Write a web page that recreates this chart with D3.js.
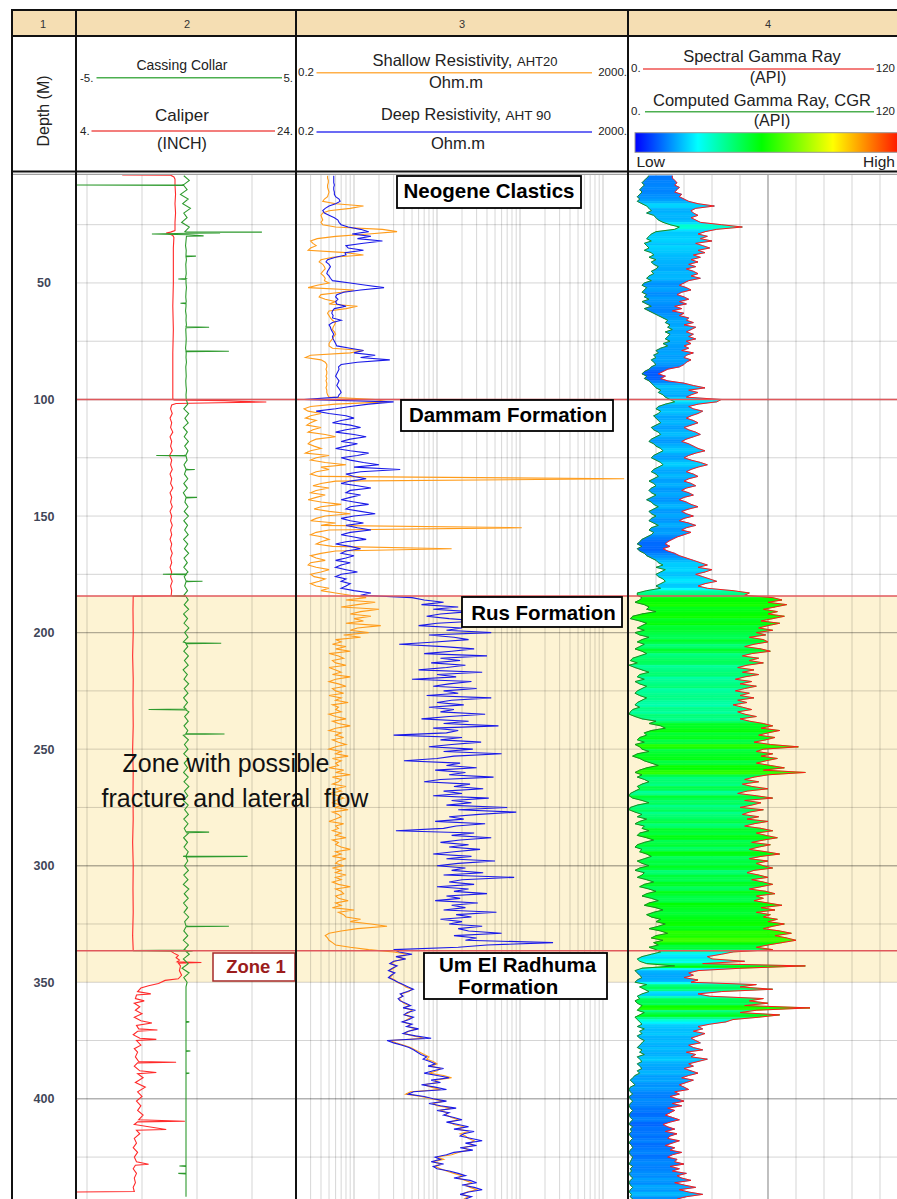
<!DOCTYPE html>
<html>
<head>
<meta charset="utf-8">
<script src="https://cdn.jsdelivr.net/npm/d3@7"></script>
<style>
  body { margin: 0; background: #fff; }
  svg { display: block; }
  text { font-family: "Liberation Sans", Arial, sans-serif; }
</style>
</head>
<body>
<svg id="log" width="897" height="1199"></svg>
<script>
// ---------------- well data ----------------
// Resistivity and gamma samples: one value per metre starting at depthTop.
const depthTop = 4;
const depthStep = 1;

// Deep resistivity, AHT90 (ohm.m)
const deepRes = [
  // Neogene Clastics 4-99 m
  0.57,0.57,0.57,0.57,0.58,0.57,0.57,0.58,0.58,0.6,
  0.66,0.68,0.6,0.5,0.45,0.42,0.44,0.5,0.58,0.64,
  0.66,0.7,0.85,1.2,1.5,0.95,1.6,1.1,2.2,1.3,
  0.8,0.85,1.3,0.78,0.8,0.6,0.48,0.46,0.5,0.52,
  0.5,0.48,0.47,0.5,0.52,0.55,0.9,1.4,2.3,1.2,
  0.75,0.62,0.6,0.64,0.6,0.62,0.8,0.58,0.55,0.54,
  0.56,0.55,0.7,0.55,0.5,0.52,0.53,0.55,0.57,0.55,
  0.56,0.58,0.6,0.62,0.9,1.3,1.0,1.8,1.2,2.7,
  1.1,0.7,0.65,0.66,0.64,0.62,0.6,0.63,0.66,0.64,
  0.62,0.65,0.68,0.7,0.66,0.64,
  // Dammam 100-183 m
  0.25,3.0,1.5,0.9,0.6,0.35,0.5,0.8,1.0,0.7,
  0.55,0.9,1.2,0.8,0.6,1.0,1.4,0.9,0.7,1.1,
  0.8,0.6,0.9,1.5,1.1,0.7,0.9,1.3,2.0,1.0,
  3.6,1.2,0.8,1.0,1.4,0.9,0.7,1.1,1.6,0.9,
  0.8,1.2,0.9,0.7,1.0,1.5,0.9,0.8,1.2,1.8,
  1.0,0.7,0.9,1.3,0.8,1.1,1.6,0.9,0.7,1.0,
  1.4,0.8,0.6,0.9,1.2,0.8,0.7,1.0,0.8,0.6,
  0.9,0.7,0.6,0.8,1.1,0.7,0.6,0.8,0.7,0.9,
  0.8,0.7,1.0,1.6,
  // Rus 184-336 m
  1.2,5.0,7.0,12,6.5,18,9.0,25,11,7.5,
  14,32,10,6.0,20,13,45,8.0,16,24,
  9.5,3.5,12,28,15,7.0,40,11,19,8.5,
  22,13,6.0,35,10,17,5.0,26,14,9.0,
  30,12,18,7.5,45,15,10,21,8.0,16,
  11,38,14,6.5,24,12,55,9.0,18,13,
  3.0,20,11,34,15,8.0,27,12,60,16,
  10,4.0,19,13,30,9.5,22,14,48,11,
  7.0,25,16,36,12,20,9.0,42,15,26,
  13,70,18,90,32,14,21,9.5,38,17,
  12,3.2,28,15,45,19,11,24,14,33,
  16,9.0,26,13,50,18,10,22,15,36,
  12,85,20,14,28,10,24,16,40,13,
  19,9.5,31,15,22,12,52,17,26,11,
  20,14,35,18,24,60,16,30,22,250,
  40,18,3.0,
  // Um El Radhuma 337-443 m
  3.5,5.0,3.2,4.2,3.0,2.7,3.3,2.9,2.6,3.1,
  2.8,2.6,3.0,3.4,3.9,4.5,5.2,4.4,3.6,3.9,
  3.4,3.6,4.2,4.8,3.9,5.5,4.4,4.0,5.2,4.6,
  3.8,5.0,4.3,6.0,4.5,3.9,5.5,8.5,2.5,3.0,
  3.8,4.6,5.2,5.8,6.4,7.5,6.8,8.2,9.5,7.8,
  12,9.0,7.0,10,14,8.5,11,6.5,9.5,13,
  5.2,4.5,7.0,9.0,13,8.0,11,17,10,14,
  12,16,20,13,18,24,16,28,21,19,
  26,35,22,30,19,27,16,13,9.5,11,
  8.5,12,9.0,10,14,18,22,16,25,30,
  20,28,35,24,19,26,22
];

// Shallow resistivity, AHT20 (ohm.m)
const shallowRes = [
  // Neogene Clastics 4-99 m
  0.48,0.48,0.49,0.49,0.48,0.48,0.49,0.5,0.49,0.48,
  0.44,0.42,0.6,1.3,0.9,0.5,0.42,0.4,0.41,0.42,
  0.4,0.42,0.6,2.2,3.3,1.5,0.6,0.36,0.3,0.32,
  0.35,0.3,0.28,0.8,1.3,0.55,0.4,0.38,0.42,0.44,
  0.45,0.42,0.4,0.43,0.45,0.44,0.5,0.36,0.28,1.0,
  0.7,0.4,0.38,0.45,0.6,0.5,1.1,0.8,0.5,0.48,
  0.5,0.52,0.55,0.6,0.58,0.56,0.55,0.58,0.6,0.57,
  0.55,0.52,0.5,0.5,0.55,1.3,0.9,0.3,0.26,0.4,
  0.45,0.47,0.47,0.46,0.47,0.47,0.46,0.47,0.46,0.47,
  0.47,0.46,0.47,0.47,0.48,0.5,
  // Dammam 100-183 m
  1.8,2.5,0.6,0.3,0.25,0.28,0.4,0.3,0.26,0.35,
  0.3,0.27,0.4,0.32,0.28,0.45,0.6,0.35,0.3,0.28,
  0.33,0.4,0.3,0.26,0.5,0.35,0.3,0.45,0.8,0.4,
  0.5,0.35,0.3,0.38,1800,0.6,0.4,0.32,0.5,0.35,
  0.3,0.45,0.35,0.28,0.4,0.7,0.4,0.33,0.5,0.9,
  0.45,0.35,0.3,0.6,0.4,105,0.5,0.35,0.3,0.42,
  0.5,0.4,0.35,0.55,15,0.6,0.4,0.3,0.35,0.45,
  0.3,0.28,0.35,0.5,0.4,0.3,0.33,0.45,0.38,0.3,
  0.35,0.5,0.4,0.6,
  // Rus 184-336 m
  0.9,1.4,0.8,1.8,1.1,0.7,2.0,1.2,0.9,1.6,
  1.0,1.3,0.8,2.1,1.1,0.9,1.5,0.75,1.2,0.6,
  0.7,0.55,0.8,0.6,0.9,0.5,0.65,0.75,0.55,0.6,
  0.8,0.5,0.6,0.7,0.55,0.9,0.6,0.5,0.65,0.8,
  0.55,0.6,0.75,0.5,0.7,0.6,0.85,0.55,0.65,0.6,
  0.7,0.5,0.6,0.8,0.55,0.65,0.9,0.6,0.5,0.7,
  0.6,0.75,0.55,0.65,0.8,0.6,0.5,0.7,0.6,0.85,
  0.55,0.7,0.6,0.65,0.5,0.75,0.6,0.9,0.55,0.7,
  0.65,0.55,0.8,0.6,0.7,0.5,0.65,0.75,0.6,0.55,
  0.7,0.6,0.85,0.55,0.65,0.7,0.6,0.5,0.75,0.6,
  0.65,0.55,0.7,0.6,0.8,0.55,0.65,0.6,0.7,0.9,
  0.6,0.7,0.55,0.8,0.65,0.6,0.75,0.55,0.7,0.6,
  0.8,0.6,0.7,0.55,0.65,0.9,0.6,0.7,0.75,0.6,
  0.65,0.85,0.6,0.7,0.55,1.0,0.65,0.75,0.8,1.2,
  0.9,1.6,2.5,1.1,0.7,0.5,0.45,0.48,0.5,0.55,
  0.6,0.9,1.5,
  // Um El Radhuma 337-443 m
  3.0,4.4,3.4,4.0,3.1,2.8,3.2,3.0,2.7,3.0,
  2.9,2.7,3.1,3.3,3.8,4.2,5.0,4.6,3.7,3.8,
  3.5,3.7,4.0,4.6,4.1,5.0,4.6,4.1,4.9,4.4,
  3.9,4.7,4.5,5.6,4.6,4.0,5.2,7.0,2.7,3.2,
  4.0,4.8,5.4,6.2,7.0,8.0,7.5,9.0,10,8.5,
  11,10,8.0,12,15,9.5,10,7.0,8.5,11,
  4.8,4.2,6.5,8.5,12,9.0,10,15,11,13,
  13,15,18,14,16,21,18,24,19,22,
  24,28,25,27,21,24,18,15,10,12,
  9.0,11,9.5,11,13,16,20,18,22,26,
  22,25,30,23,20,24,21
];

// Spectral gamma ray (API)
const spectralGR = [
  // Neogene Clastics 4-99 m
  19,19,20,21,20,22,21,20,23,22,
  24,26,30,37,29,27,28,30,27,29,
  31,40,49,38,33,30,34,31,36,29,
  32,35,30,33,28,31,27,30,26,29,
  25,28,30,27,31,26,24,22,25,27,
  23,21,24,26,22,25,20,23,19,24,
  22,26,25,28,24,29,27,25,28,26,
  29,25,27,24,26,23,28,25,24,27,
  25,24,22,17,15,13,16,14,17,24,
  28,33,26,30,27,25,
  // Dammam 100-183 m
  40,38,30,26,28,32,30,27,25,28,
  30,27,24,26,29,31,28,25,23,26,
  28,30,33,29,26,24,27,31,34,30,
  27,25,28,30,26,24,27,29,25,23,
  26,28,24,22,25,27,30,26,23,25,
  28,24,22,26,29,25,23,27,24,21,
  19,17,16,18,15,17,20,22,25,28,
  31,34,30,36,33,29,32,35,38,33,
  30,34,45,52,
  // Rus 184-336 m
  50,62,66,60,68,63,58,64,60,67,
  62,57,65,60,56,62,55,59,52,58,
  60,54,50,57,61,53,49,56,52,58,
  51,47,54,49,56,50,46,53,48,55,
  50,46,52,48,54,47,51,45,49,53,
  47,50,55,48,52,58,62,57,65,60,
  56,63,59,54,61,73,58,55,62,57,
  64,59,55,61,67,58,76,60,54,50,
  56,49,53,60,51,47,55,62,50,57,
  53,48,58,52,49,56,51,60,54,50,
  57,62,55,59,64,58,53,61,56,52,
  59,65,57,52,60,55,58,62,54,51,
  56,60,53,58,62,57,52,59,63,55,
  58,54,60,66,57,63,55,61,58,64,
  60,67,62,58,65,70,63,68,72,66,
  60,55,62,
  // Um El Radhuma 337-443 m
  45,40,34,36,50,32,76,48,30,26,
  28,24,30,27,55,48,62,40,30,35,
  58,52,60,50,78,55,48,65,56,45,
  42,35,30,32,28,33,30,27,29,31,
  26,28,32,25,29,27,34,30,26,28,
  24,27,30,26,23,28,25,22,24,26,
  20,22,18,21,24,19,23,17,20,18,
  16,19,22,18,15,17,20,16,21,18,
  17,22,19,16,20,18,23,19,17,21,
  20,24,18,22,19,25,21,23,27,20,
  24,29,22,26,32,25,21
];

// Computed gamma ray, CGR (API)
const computedGR = [
  // Neogene Clastics 4-99 m
  9,8,7,6,7,6,5,6,5,4,
  5,4,6,8,9,10,8,11,12,13,
  15,18,22,20,12,10,9,8,10,7,
  8,9,7,10,11,9,12,10,11,13,
  12,10,11,9,8,10,7,6,8,7,
  6,8,7,9,6,8,10,7,9,11,
  13,15,17,16,18,17,19,16,18,17,
  16,18,15,17,14,12,13,11,12,10,
  11,12,10,9,7,6,8,7,9,10,
  11,12,14,13,15,16,
  // Dammam 100-183 m
  18,20,16,13,12,14,13,11,12,13,
  14,12,10,11,13,14,12,10,9,11,
  12,14,15,13,11,10,12,14,15,13,
  11,10,12,13,11,9,11,12,10,9,
  10,12,10,8,10,11,13,11,9,10,
  12,10,9,11,13,10,9,11,10,8,
  6,5,4,6,4,5,7,8,10,12,
  13,15,12,16,14,12,13,15,16,14,
  12,14,8,4,
  // Rus 184-336 m
  4,6,5,3,7,9,8,12,6,2,
  1,5,8,6,4,7,3,5,9,6,
  4,7,5,3,6,8,5,2,1,4,
  0.5,3,6,9,5,4,7,3,5,8,
  6,4,3,5,8,6,4,3,5,2,
  1,0.5,3,6,12,9,14,16,10,7,
  8,5,4,7,3,5,6,9,4,2,
  5,7,10,13,8,5,3,6,4,7,
  9,6,4,5,3,1,0.5,2,6,9,
  4,1,0.5,3,6,4,8,5,3,7,
  6,9,5,4,8,11,7,4,3,6,
  5,8,10,7,4,6,9,5,3,7,
  6,4,8,11,7,5,9,12,8,6,
  10,13,9,7,12,15,11,8,10,14,
  12,16,13,9,14,17,12,10,15,11,
  13,9,12,
  // Um El Radhuma 337-443 m
  14,10,6,4,5,8,20,6,3,4,
  5,6,4,3,8,5,7,9,6,4,
  5,3,4,6,5,4,7,5,3,4,
  5,6,4,7,5,6,4,5,7,6,
  5,4,6,5,7,4,5,6,4,5,
  6,4,5,3,2,1,2,3,1,0.5,
  1,2,0.5,1,2,1,0.5,1,2,1,
  0.5,1,2,1,0.5,2,1,1.5,0.5,1,
  2,1,0.5,1.5,2,1,0.5,1,2,1.5,
  1,0.5,2,1,1.5,0.5,1,2,1,0.5,
  1,2,1,0.5,1.5,1,2
];

// Caliper (inch): [depth m, value]
const caliper = [
  [3.7,8.2],[3.75,12.6],[4.5,12.9],[5.5,13.0],[8,13.0],[12,13.05],[16,13.0],[20,13.05],[24,13.0],
  [27.5,13.0],[28.2,12.6],[28.6,12.2],[29.0,12.5],[29.6,12.8],[30.5,12.9],[35,12.85],[40,12.85],
  [50,12.85],[60,12.8],[70,12.85],[80,12.8],[90,12.8],[99.6,12.8],[100.2,12.9],[100.5,17.5],
  [100.8,19.0],[101.1,21.3],[101.4,17.0],[101.7,13.1],[102.3,12.7],[104,12.6],[106,12.75],
  [108,12.55],[110,12.7],[112,12.6],[114,12.8],[116,12.55],[118,12.7],[120,12.6],[122,12.75],
  [124,12.5],[126,12.7],[128,12.6],[130,12.75],[132,12.55],[134,12.7],[136,12.6],[138,12.8],
  [140,12.55],[142,12.7],[144,12.6],[146,12.75],[148,12.55],[150,12.7],[152,12.6],[154,12.75],
  [156,12.6],[158,12.7],[160,12.55],[162,12.7],[164,12.6],[166,12.75],[168,12.6],[170,12.7],
  [172,12.55],[174,12.7],[176,12.6],[178,12.75],[180,12.6],[182,12.7],[184.2,12.65],[184.4,9.2],
  [190,9.18],[200,9.2],[210,9.15],[220,9.2],[230,9.18],[240,9.2],[250,9.15],[260,9.2],[270,9.18],
  [280,9.2],[290,9.15],[300,9.2],[310,9.18],[320,9.2],[330,9.15],[336.3,9.2],[336.6,12.6],
  [337.5,12.9],[338.5,13.3],[339.5,13.1],[340.5,13.4],[341.2,13.2],[341.5,15.4],[341.8,13.3],
  [343,13.5],[345,13.4],[347,13.6],[348.5,13.3],[349.2,12.1],[350.5,11.5],[351.5,10.6],
  [352.5,9.9],[354,9.6],[355,10.8],[355.5,9.5],[357,9.4],[358,10.2],[359,9.3],[360.5,9.8],
  [362,9.4],[363.5,10.0],[365,9.3],[366.5,9.9],[367.5,10.9],[368.5,9.5],[370,9.7],[370.5,11.4],
  [371,9.6],[372.5,9.2],[374,9.8],[374.5,11.3],[375,9.5],[377,9.9],[378.5,9.3],[380,9.6],
  [382,9.4],[384,9.7],[384.3,13.1],[384.6,9.6],[386,9.3],[388,9.8],[388.7,11.3],[389.2,9.6],
  [391,10.1],[393,9.4],[395,10.3],[397,9.6],[399,10.0],[401,9.5],[403,9.9],[405,9.6],[407,10.1],
  [409,9.7],[409.6,13.9],[409.9,9.6],[411,9.3],[413.2,12.2],[413.5,9.5],[415,9.8],[417,9.3],
  [419,9.5],[421,9.2],[423,9.6],[425,9.3],[427,9.5],[428.1,10.6],[428.5,9.4],[430,9.2],
  [432,9.5],[434,9.3],[436,9.4],[438,9.2],[439.8,9.3],[440.0,4.05]
];

// Casing collar locator: background trace every 2 m from 4 m ...
const collarStart = 4;
const collarStep = 2;
const collarBase = [
  -0.1,0.15,-0.2,0.05,-0.25,0.1,-0.15,0.2,-0.1,0.05,-0.2,0.15,-0.05,
  0.02,0,-0.02,0.01,0,0.02,-0.01,0,0.01,-0.02,0,0.02,0,-0.01,0.01,0,-0.02,0.01,
  0,0.02,-0.01,0,0.01,0,-0.02,0.01,0,0.02,-0.01,0,0.01,-0.01,0,0.02,0,0.01,
  0.08,-0.1,0.12,-0.05,0.1,-0.12,0.06,-0.08,0.11,-0.06,0.09,-0.11,0.05,-0.09,0.12,-0.07,
  0.08,-0.1,0.06,-0.12,0.1,-0.05,0.09,-0.08,0.11,-0.1,0.07,-0.06,0.1,-0.11,0.08,-0.07,
  0.12,-0.09,0.06,-0.1,0.09,-0.08,0.11,-0.06,0.07,-0.1,
  0.1,-0.08,0.12,-0.11,0.07,-0.09,0.13,-0.06,0.09,-0.12,0.08,-0.1,0.11,-0.07,0.1,-0.13,0.06,-0.09,0.12,-0.08,
  0.09,-0.11,0.07,-0.1,0.13,-0.06,0.1,-0.09,0.08,-0.12,0.11,-0.07,0.09,-0.1,0.12,-0.08,0.07,-0.11,0.1,-0.09,
  0.13,-0.07,0.08,-0.12,0.1,-0.06,0.11,-0.1,0.09,-0.08,0.12,-0.11,0.07,-0.09,0.1,-0.13,0.08,-0.07,0.11,-0.1,
  0.09,-0.12,0.13,-0.08,0.1,-0.11,0.07,-0.09,0.12,-0.06,0.1,-0.1,0.08,-0.12,0.11,-0.09,
  0.15,-0.12,0.1,-0.18,0.14,-0.1,0.05,
  0,0,0,0,0,0,0,0,0,0,0,0,0,0,0,0,0,0,0,0,0,0,0,
  0,0,0,0,0,0,0,0,0,0,0,0,0,0,0,0,0,0,0,0,0,0,0
];
// ... and the collar kicks: [depth m, value]
const collarKicks = [
  [7.8,-0.1],[8.0,-5],[8.2,-0.1],
  [28.1,0],[28.2,3.45],[28.35,0.3],[28.5,1.55],[28.7,0.1],[29.0,-1.55],[29.3,0.1],[29.8,0.8],[29.95,0.02],
  [38.3,0],[38.5,0.45],[38.7,0],
  [48.1,0],[48.3,-0.35],[48.5,0],
  [58.5,0],[58.7,-0.25],[58.9,0],
  [68.8,0],[69.0,1.05],[69.2,0],
  [79.1,0],[79.3,1.95],[79.5,0],
  [123.8,0],[124.0,-1.35],[124.2,0],
  [129.8,0],[130.0,0.4],[130.2,0],
  [141.8,0],[142.0,0.5],[142.2,0],
  [174.8,0],[175.0,-1.05],[175.2,0],
  [177.8,0],[178.0,0.75],[178.2,0],
  [184.1,0],[184.3,-0.65],[184.5,0],
  [204.4,0],[204.6,1.6],[204.8,0],
  [232.8,0],[233.0,-1.7],[233.2,0],
  [243.3,0],[243.5,1.75],[243.7,0],
  [285.4,0],[285.6,1.05],[285.8,0],
  [295.8,0],[296.0,2.8],[296.2,0],
  [325.8,0],[326.0,1.95],[326.2,0],
  [336.2,0],[336.45,-2.4],[336.6,0.3],[336.8,0],
  [366.8,0],[367.0,0.15],[367.2,0],
  [379.3,0],[379.5,0.2],[379.7,0],
  [388.8,0],[389.0,0.15],[389.2,0],
  [428.6,0],[428.8,-0.3],[429.0,0],
  [431.8,0],[432.0,-0.35],[432.2,0]
];

// curve scale limits printed in the header
const collarRange = [-5, 5];
const caliperRange = [4, 24];
const resRange = [0.2, 2000];
const grRange = [0, 120];

// depth annotation
const depthTicks = [50, 100, 150, 200, 250, 300, 350, 400];
const formationTops = [100, 184.3, 336.5];
const zoneInterval = [184.3, 350];

// ---------------- layout ----------------
const svg = d3.select("#log");
const dataTopY = 175, dataBottomY = 1199;
const T1 = [12, 76], T2 = [76, 296], T3 = [296, 628], T4 = [628, 908];

const y = d3.scaleLinear().domain([0, 450]).range([166.4, 166.4 + 450 * 2.331]);
const xCol = d3.scaleLinear().domain(collarRange).range(T2);
const xCal = d3.scaleLinear().domain(caliperRange).range(T2);
const xRes = d3.scaleLog().domain(resRange).range(T3);
const xGR = d3.scaleLinear().domain(grRange).range(T4);
const fillColor = d3.scaleLinear()
  .domain([0, 40, 63, 90, 120])
  .range(["#0000ff", "#00ffff", "#00ff00", "#ffff00", "#ff0000"])
  .clamp(true);

const defs = svg.append("defs");
function clip(id, x0, x1) {
  defs.append("clipPath").attr("id", id).append("rect")
    .attr("x", x0).attr("y", dataTopY).attr("width", x1 - x0).attr("height", dataBottomY - dataTopY);
}
clip("c2", T2[0], T2[1]);
clip("c3", T3[0], T3[1]);
clip("c4", T4[0], T4[1]);
clip("cAll", T2[0], 897);

const sampled = arr => arr.map((v, i) => ({ d: depthTop + i * depthStep, v }));

// ---------------- depth tracks background ----------------
const body = svg.append("g");
body.append("rect").attr("x", T2[0]).attr("width", 897 - T2[0])
  .attr("y", y(zoneInterval[0])).attr("height", y(zoneInterval[1]) - y(zoneInterval[0]))
  .attr("fill", "#fdf3d3");

// horizontal grid every 25 m
const grid = body.append("g").attr("clip-path", "url(#cAll)");
d3.range(25, 450, 25).forEach(d => {
  grid.append("line").attr("x1", T2[0]).attr("x2", 897)
    .attr("y1", y(d)).attr("y2", y(d))
    .attr("stroke", "#000").attr("stroke-opacity", d % 100 === 0 ? 0.3 : 0.17)
    .attr("stroke-width", d % 100 === 0 ? 1.4 : 1);
});
// track 2 linear grid
xCal.ticks(5).filter(v => v > caliperRange[0] && v < caliperRange[1]).forEach(v => {
  grid.append("line").attr("x1", xCal(v)).attr("x2", xCal(v))
    .attr("y1", dataTopY).attr("y2", dataBottomY)
    .attr("stroke", "#000").attr("stroke-opacity", 0.17);
});
// track 3 logarithmic grid
[0.1, 1, 10, 100, 1000].forEach(k => {
  d3.range(1, 10).forEach(m => {
    const v = m * k;
    if (v > resRange[0] * 1.0001 && v < resRange[1] * 0.9999) {
      grid.append("line").attr("x1", xRes(v)).attr("x2", xRes(v))
        .attr("y1", dataTopY).attr("y2", dataBottomY)
        .attr("stroke", "#000").attr("stroke-opacity", m === 1 ? 0.22 : 0.16);
    }
  });
});
// track 4 linear grid
d3.range(12, 120, 12).forEach(v => {
  grid.append("line").attr("x1", xGR(v)).attr("x2", xGR(v))
    .attr("y1", dataTopY).attr("y2", dataBottomY)
    .attr("stroke", "#000").attr("stroke-opacity", v === 60 ? 0.28 : 0.17)
    .attr("stroke-width", v === 60 ? 1.8 : 1);
});

// ---------------- track 2: caliper and casing collar ----------------
const g2 = body.append("g").attr("clip-path", "url(#c2)");
g2.append("path").datum(caliper)
  .attr("d", d3.line().x(p => xCal(p[1])).y(p => y(p[0])))
  .attr("fill", "none").attr("stroke", "#ff2a2a").attr("stroke-width", 1.1);

const collar = collarBase.map((v, i) => [collarStart + i * collarStep, v])
  .concat(collarKicks)
  .sort((a, b) => a[0] - b[0]);
g2.append("path").datum(collar)
  .attr("d", d3.line().x(p => xCol(p[1])).y(p => y(p[0])))
  .attr("fill", "none").attr("stroke", "#2e9a2e").attr("stroke-width", 1.1);

// ---------------- track 3: resistivity ----------------
const g3 = body.append("g").attr("clip-path", "url(#c3)");
const resLine = d3.line().x(p => xRes(p.v)).y(p => y(p.d));
g3.append("path").datum(sampled(shallowRes)).attr("d", resLine)
  .attr("fill", "none").attr("stroke", "#ff9c1a").attr("stroke-width", 1.1);
g3.append("path").datum(sampled(deepRes)).attr("d", resLine)
  .attr("fill", "none").attr("stroke", "#1a1ae8").attr("stroke-width", 1.1);

// ---------------- track 4: gamma ray with colour fill ----------------
const g4 = body.append("g").attr("clip-path", "url(#c4)");
const sgr = sampled(spectralGR), cgr = sampled(computedGR);
const bands = d3.range(sgr.length - 1).map(i => ({
  pts: [[xGR(cgr[i].v), y(cgr[i].d)], [xGR(sgr[i].v), y(sgr[i].d)],
        [xGR(sgr[i + 1].v), y(sgr[i + 1].d)], [xGR(cgr[i + 1].v), y(cgr[i + 1].d)]],
  c: fillColor((sgr[i].v + sgr[i + 1].v) / 2)
}));
g4.selectAll("path.band").data(bands).join("path").attr("class", "band")
  .attr("d", b => "M" + b.pts.join("L") + "Z")
  .attr("fill", b => b.c).attr("stroke", b => b.c).attr("stroke-width", 0.6);
const grLine = d3.line().x(p => xGR(p.v)).y(p => y(p.d));
g4.append("path").datum(cgr).attr("d", grLine)
  .attr("fill", "none").attr("stroke", "#1f8a1f").attr("stroke-width", 1);
g4.append("path").datum(sgr).attr("d", grLine)
  .attr("fill", "none").attr("stroke", "#ff1a1a").attr("stroke-width", 1);

// ---------------- formation boundaries ----------------
formationTops.forEach(d => {
  body.append("line").attr("x1", T2[0]).attr("x2", 897).attr("y1", y(d)).attr("y2", y(d))
    .attr("stroke", "#e0585c").attr("stroke-width", 1.4);
});

// ---------------- depth labels ----------------
depthTicks.forEach(d => {
  body.append("text").attr("x", 44).attr("y", y(d) + 4.5)
    .attr("text-anchor", "middle").attr("font-size", 12.5).attr("font-weight", "bold")
    .attr("fill", "#3f4658").text(d);
});

// ---------------- annotations ----------------
function labelBox(x, yTop, w, h, lines, opts = {}) {
  const g = svg.append("g");
  g.append("rect").attr("x", x).attr("y", yTop).attr("width", w).attr("height", h)
    .attr("fill", "#fff").attr("stroke", opts.stroke || "#000").attr("stroke-width", opts.sw || 1.8);
  lines.forEach(l => {
    g.append("text").attr("x", l[0]).attr("y", l[1]).attr("text-anchor", l[2] || "middle")
      .attr("font-size", opts.size || 20.5).attr("font-weight", "bold")
      .attr("fill", opts.color || "#000").text(l[3]);
  });
}
labelBox(397, 176, 184, 32, [[489, 197.5, "middle", "Neogene Clastics"]]);
labelBox(401, 400, 212, 31, [[508, 421.5, "middle", "Dammam Formation"]]);
labelBox(462, 597, 160, 30, [[543.5, 619.5, "middle", "Rus Formation"]]);
labelBox(424, 953, 183, 46, [[439, 971.5, "start", "Um El Radhuma"], [458, 994, "start", "Formation"]]);
labelBox(213, 953, 82, 28, [[256, 972.5, "middle", "Zone 1"]],
  { stroke: "#a52a2a", color: "#9b1c1c", size: 18.5, sw: 1.5 });

svg.append("text").attr("x", 226).attr("y", 772).attr("text-anchor", "middle")
  .attr("font-size", 25).attr("fill", "#111").style("white-space", "pre")
  .text("Zone with possible");
svg.append("text").attr("x", 235).attr("y", 806.5).attr("text-anchor", "middle")
  .attr("font-size", 25).attr("fill", "#111").style("white-space", "pre")
  .text("fracture and lateral  flow");

// ---------------- header ----------------
const head = svg.append("g");
head.append("rect").attr("x", 12).attr("y", 11).attr("width", 897 - 12).attr("height", 25).attr("fill", "#f5deb3");
[["1", 43], ["2", 187], ["3", 462], ["4", 768]].forEach(t => {
  head.append("text").attr("x", t[1]).attr("y", 27.5).attr("text-anchor", "middle")
    .attr("font-size", 11).attr("fill", "#333").text(t[0]);
});
head.append("text").attr("transform", "translate(49,111) rotate(-90)")
  .attr("text-anchor", "middle").attr("font-size", 16).attr("fill", "#222").text("Depth (M)");

function ht(x, yb, txt, size, anchor = "middle", fill = "#222") {
  return head.append("text").attr("x", x).attr("y", yb).attr("text-anchor", anchor)
    .attr("font-size", size).attr("fill", fill).text(txt);
}
function hl(x1, x2, yy, color) {
  head.append("line").attr("x1", x1).attr("x2", x2).attr("y1", yy).attr("y2", yy)
    .attr("stroke", color).attr("stroke-width", 1.6);
}
// track 2 legend
ht(182, 70, "Cassing Collar", 14);
ht(80, 81.5, collarRange[0] + ".", 11.5, "start");
ht(293, 81.5, collarRange[1] + ".", 11.5, "end");
hl(96.5, 282, 77.7, "#4caf50");
ht(182, 121, "Caliper", 17);
ht(80, 135, caliperRange[0] + ".", 11.5, "start");
ht(293, 135, caliperRange[1] + ".", 11.5, "end");
hl(91.5, 275, 131, "#ef5350");
ht(182, 149, "(INCH)", 16);
// track 3 legend
const s1 = ht(465, 65.5, "Shallow Resistivity, ", 16.5);
s1.append("tspan").attr("font-size", 13).text("AHT20");
ht(298, 76, String(resRange[0]), 11.5, "start");
ht(627, 76, resRange[1] + ".", 11.5, "end");
hl(316.5, 592, 72.7, "#ffb04a");
ht(456, 87.5, "Ohm.m", 16.5);
const s2 = ht(466, 120, "Deep Resistivity, ", 16.3);
s2.append("tspan").attr("font-size", 13.5).text("AHT 90");
ht(298, 135, String(resRange[0]), 11.5, "start");
ht(627, 135, resRange[1] + ".", 11.5, "end");
hl(316.5, 592, 132, "#3a3af0");
ht(458, 148.5, "Ohm.m", 16.5);
// track 4 legend
ht(762, 62.3, "Spectral Gamma Ray", 16.5);
ht(631, 71.7, grRange[0] + ".", 11.5, "start");
ht(895, 71.7, String(grRange[1]), 11.5, "end");
hl(643, 874, 69, "#ef5350");
ht(768, 82.5, "(API)", 16);
ht(762, 106, "Computed Gamma Ray, CGR", 16.5);
ht(631, 115, grRange[0] + ".", 11.5, "start");
ht(895, 115, String(grRange[1]), 11.5, "end");
hl(645, 874, 111.7, "#4caf50");
ht(772, 125.5, "(API)", 16);
const grad = defs.append("linearGradient").attr("id", "grBar").attr("x1", "0").attr("x2", "1").attr("y1", "0").attr("y2", "0");
[[0, "#0000ff"], [0.233, "#00ffff"], [0.469, "#00ff00"], [0.733, "#ffff00"], [1, "#ff0000"]].forEach(s => {
  grad.append("stop").attr("offset", s[0]).attr("stop-color", s[1]);
});
head.append("rect").attr("x", 635).attr("y", 132.7).attr("width", 270).attr("height", 19.6)
  .attr("fill", "url(#grBar)").attr("stroke", "#999").attr("stroke-width", 1);
ht(636.5, 166.7, "Low", 15.5, "start");
ht(895, 166.7, "High", 15.5, "end");

// ---------------- frame ----------------
const frame = svg.append("g").attr("stroke", "#111");
frame.append("line").attr("x1", 11).attr("x2", 897).attr("y1", 10).attr("y2", 10).attr("stroke-width", 2);
frame.append("line").attr("x1", 11).attr("x2", 897).attr("y1", 36).attr("y2", 36).attr("stroke-width", 2);
frame.append("line").attr("x1", 11).attr("x2", 897).attr("y1", 171.6).attr("y2", 171.6).attr("stroke-width", 2);
frame.append("line").attr("x1", 11).attr("x2", 897).attr("y1", 174.3).attr("y2", 174.3)
  .attr("stroke", "#8a8a8a").attr("stroke-width", 1);
[12, 76, 296, 628].forEach(x => {
  frame.append("line").attr("x1", x).attr("x2", x).attr("y1", 9).attr("y2", 1199).attr("stroke-width", 2);
});
</script>
</body>
</html>
